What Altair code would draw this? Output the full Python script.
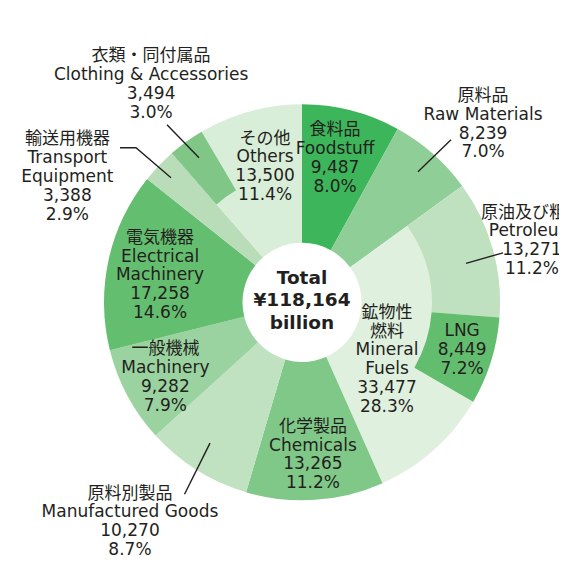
import math
import altair as alt
import numpy as np
import pandas as pd

# ---------------- data ----------------
main_jp = ["食料品", "原料品", "鉱物性燃料", "化学製品", "原料別製品",
           "一般機械", "電気機器", "輸送用機器", "その他"]
main_en = ["Foodstuff", "Raw Materials", "Mineral Fuels", "Chemicals",
           "Manufactured Goods", "Machinery", "Electrical Machinery",
           "Transport Equipment", "Others"]
main_values = [9487, 8239, 33477, 13265, 10270, 9282, 17258, 3388, 13500]
main_pct = ["8.0%", "7.0%", "28.3%", "11.2%", "8.7%", "7.9%", "14.6%",
            "2.9%", "11.4%"]

sub_parent = ["Mineral Fuels", "Mineral Fuels", "Others"]
sub_jp = ["原油及び粗油", "", "衣類・同付属品"]
sub_en = ["Petroleum", "LNG", "Clothing & Accessories"]
sub_values = [13271, 8449, 3494]
sub_pct = ["11.2%", "7.2%", "3.0%"]

total_lines = ["Total", "¥118,164", "billion"]

# ---------------- style / layout ----------------
main_colors = ["#3db55a", "#8fce96", "#e0f0df", "#80c888", "#c0e2c0",
               "#9bd3a0", "#64be6f", "#b9ddb9", "#d9eed8"]
sub_colors = ["#c0e1c0", "#63bd6e", "#80c787"]

W, H = 551, 550
CX, CY = 294.0, 294.3          # centre in chart pixels (page - 8)
R_OUT, R_MID, R_IN = 198, 130, 59.5
FONT = "DejaVu Sans, Noto Sans CJK JP"
TXT = "#231f20"
FS, LH = 17, 18.8
CFS, CLH = 18.5, 22.5

label_text_override = {
    "Mineral Fuels": "鉱物性\n燃料\nMineral\nFuels",
    "Electrical Machinery": "電気機器\nElectrical\nMachinery",
    "Transport Equipment": "輸送用機器\nTransport\nEquipment",
}
# (angle nudge in degrees from the segment midpoint, radius px, extra dy px)
label_layout = {
    "Foodstuff": (-1.5, 147.5, 0),
    "Raw Materials": (4.0, 254, 0),
    "Mineral Fuels": (-14.0, 102.6, 0),
    "Chemicals": (-0.3, 153, 0),
    "Manufactured Goods": (5.3, 283.6, -6),
    "Machinery": (-0.7, 156, 0),
    "Electrical Machinery": (-1.5, 144.5, 0),
    "Transport Equipment": (-15.6, 266, 0),
    "Others": (0.0, 140.5, 0),
    "Petroleum": (0.8, 238, 0),
    "LNG": (-0.8, 167, 0),
    "Clothing & Accessories": (1.1, 265, 0),
}
# leader lines: offsets (dx, dy) from the centre, in px
leaders = {
    "raw": [(116, -130.5), (149, -162.5)],
    "crude": [(164, -39), (201, -49.5)],
    "manuf": [(-92, 140.8), (-117.5, 192)],
    "cloth": [(-103, -144.5), (-135, -177.5)],
    "trans": [(-131, -124.5), (-166, -154.5), (-182, -154.5)],
}

# ---------------- build tables ----------------
T = float(sum(main_values))
cum = np.concatenate([[0], np.cumsum(main_values)])
main = pd.DataFrame({
    "en": main_en, "jp": main_jp, "value": main_values, "pct": main_pct,
    "start": cum[:-1], "end": cum[1:], "color": main_colors,
})

sub_rows = []
offset = {}
for p, jp, en, v, pc, col in zip(sub_parent, sub_jp, sub_en, sub_values,
                                 sub_pct, sub_colors):
    pstart = float(main.loc[main.en == p, "start"].iloc[0])
    s = pstart + offset.get(p, 0.0)
    offset[p] = offset.get(p, 0.0) + v
    sub_rows.append(dict(en=en, jp=jp, value=v, pct=pc, start=s, end=s + v,
                         color=col, parent=p))
sub = pd.DataFrame(sub_rows)


def label_row(key, mid, text):
    """Polar anchor of the first line so that the text block is centred."""
    nd, rad, extra = label_layout[key]
    a = (mid / T) * 2 * math.pi + math.radians(nd)
    dx, dy = rad * math.sin(a), -rad * math.cos(a)
    n = text.count("\n") + 1
    dy1 = dy - (n - 1) / 2 * LH + extra
    r1 = math.hypot(dx, dy1)
    a1 = math.atan2(dx, -dy1) % (2 * math.pi)
    return dict(text=text, tv=a1 / (2 * math.pi) * T, r=r1)


labels = []
for _, r in main.iterrows():
    if r.en in offset:
        mid = (r.start + offset[r.en] + r.end) / 2
    else:
        mid = (r.start + r.end) / 2
    head = label_text_override.get(r.en, f"{r.jp}\n{r.en}")
    labels.append(label_row(r.en, mid, f"{head}\n{r.value:,}\n{r.pct}"))
for _, r in sub.iterrows():
    mid = (r.start + r.end) / 2
    head = f"{r.jp}\n{r.en}" if r.jp else r.en
    labels.append(label_row(r.en, mid, f"{head}\n{r.value:,}\n{r.pct}"))
lab = pd.DataFrame(labels)

lead_rows = []
for k, pts in leaders.items():
    for i, (dx, dy) in enumerate(pts):
        lead_rows.append(dict(id=k, seq=i, x=CX + dx, y=CY + dy))
lead = pd.DataFrame(lead_rows)

center = pd.DataFrame({"text": ["\n".join(total_lines)]})

theta_scale = alt.Scale(domain=[0, T], range=[0, 2 * np.pi])

# ---------------- chart ----------------
ring = alt.Chart(main).mark_arc(radius=R_OUT, radius2=R_IN).encode(
    theta=alt.Theta("start:Q", stack=None, scale=theta_scale),
    theta2="end:Q",
    color=alt.Color("color:N", scale=None),
    x=alt.value(CX), y=alt.value(CY),
)
subring = alt.Chart(sub).mark_arc(radius=R_OUT, radius2=R_MID).encode(
    theta=alt.Theta("start:Q", stack=None, scale=theta_scale),
    theta2="end:Q",
    color=alt.Color("color:N", scale=None),
    x=alt.value(CX), y=alt.value(CY),
)
lines = alt.Chart(lead).mark_line(color="#231f20", strokeWidth=1.4).encode(
    x=alt.X("x:Q", scale=None),
    y=alt.Y("y:Q", scale=None),
    detail="id:N",
    order="seq:O",
)
text = alt.Chart(lab).mark_text(
    font=FONT, fontSize=FS, lineHeight=LH, align="center",
    baseline="middle", color=TXT, lineBreak="\n", clip=True,
).encode(
    theta=alt.Theta("tv:Q", stack=None, scale=theta_scale),
    radius=alt.Radius("r:Q", scale=None),
    x=alt.value(CX), y=alt.value(CY),
    text="text:N",
)
ctext = alt.Chart(center).mark_text(
    font=FONT, fontSize=CFS, fontWeight="bold", lineHeight=CLH,
    align="center", baseline="middle", color=TXT, lineBreak="\n",
).encode(x=alt.value(CX), y=alt.value(CY - 2.3 - CLH), text="text:N")

chart = alt.layer(ring, subring, lines, text, ctext).properties(
    width=W, height=H, padding=0, background="white",
    autosize=alt.AutoSizeParams(type="none"),
).configure_view(stroke=None)

chart.save("out.html", embed_options={"renderer": "svg", "actions": False})
